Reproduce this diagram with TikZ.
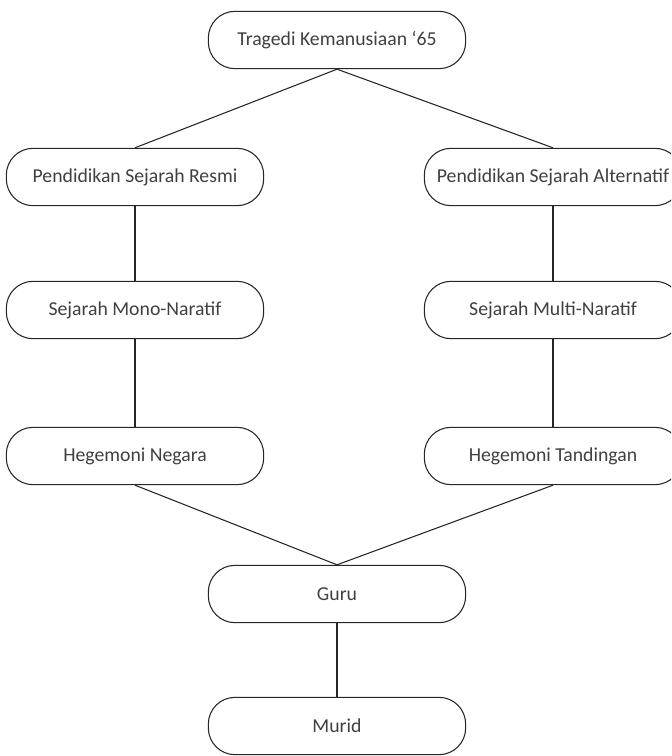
\documentclass[tikz,border=0pt]{standalone}
\usepackage{fontspec}
\setmainfont{Carlito}
\usepackage{tikz}
\usetikzlibrary{calc}

\tikzset{
  pill/.style={draw=black!85, line width=0.8pt, rounded corners=20pt, fill=white,
    minimum width=193pt, minimum height=43pt, inner sep=0pt,
    text=black!75, font=\fontsize{14.8}{17}\selectfont},
  link/.style={draw=black!85, line width=0.8pt}
}

\begin{document}
\begin{tikzpicture}[x=0.75pt,y=-0.75pt]
\useasboundingbox (0,0) rectangle (671,756);
\clip (0,0) rectangle (671,756);
\node[pill] (tragedi) at (337,40) {Tragedi Kemanusiaan ‘65};
\node[pill] (resmi) at (135,177) {Pendidikan Sejarah Resmi};
\node[pill] (alternatif) at (553,177) {Pendidikan Sejarah Alternatif};
\node[pill] (mono) at (135,310) {Sejarah Mono-Naratif};
\node[pill] (multi) at (553,310) {Sejarah Multi-Naratif};
\node[pill] (negara) at (135,456) {Hegemoni Negara};
\node[pill] (tandingan) at (553,456) {Hegemoni Tandingan};
\node[pill] (guru) at (337,594) {Guru};
\node[pill] (murid) at (337,726) {Murid};
\draw[link] (tragedi.south) -- (resmi.north);
\draw[link] (tragedi.south) -- (alternatif.north);
\draw[link] (resmi) -- (mono);
\draw[link] (alternatif) -- (multi);
\draw[link] (mono) -- (negara);
\draw[link] (multi) -- (tandingan);
\draw[link] (negara.south) -- (guru.north);
\draw[link] (tandingan.south) -- (guru.north);
\draw[link] (guru) -- (murid);
\end{tikzpicture}
\end{document}
